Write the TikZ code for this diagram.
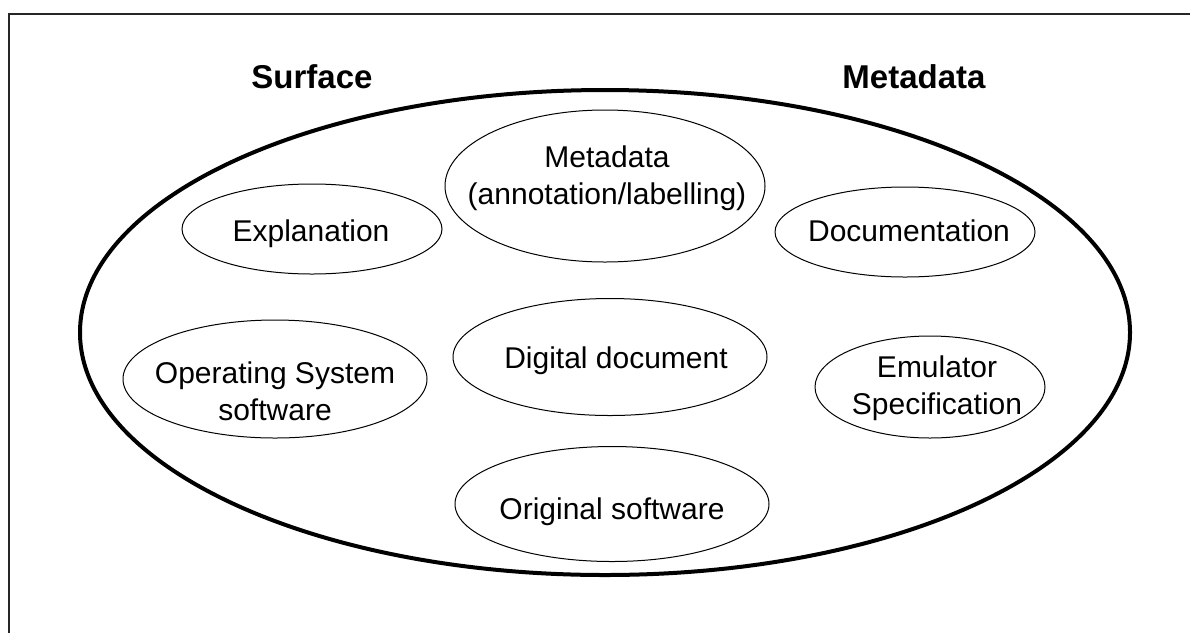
\documentclass[tikz,border=0pt]{standalone}
\usepackage{fontspec}
\setmainfont{Liberation Sans}
\usetikzlibrary{shapes.geometric}
\begin{document}
\begin{tikzpicture}[x=1pt,y=-1pt,
  bubble/.style={draw=black,line width=1pt,ellipse,inner sep=0pt},
  txt/.style={font=\fontsize{30}{37}\selectfont,align=center,inner sep=0pt},
  head/.style={font=\fontsize{33}{38}\selectfont\bfseries,inner sep=0pt,anchor=base}]
\useasboundingbox (0,0) rectangle (1190,633);
% open frame: top and left edges
\draw[line width=1.5pt,black!85] (9,633) -- (9,14) -- (1190,14);
% outer boundary
\node[draw=black,line width=4pt,ellipse,minimum width=1050pt,minimum height=485pt,inner sep=0pt] (outer) at (605,332.5) {};
% headings
\node[head] (surface) at (312,88) {Surface};
\node[head] (metahead) at (914,88) {Metadata};
% inner bubbles
\node[bubble,minimum width=320pt,minimum height=152pt] (meta) at (605,186) {};
\node[bubble,minimum width=260pt,minimum height=90pt] (expl) at (312,229) {};
\node[bubble,minimum width=304pt,minimum height=118pt] (os) at (275,379) {};
\node[bubble,minimum width=260pt,minimum height=90pt] (doc) at (905,232) {};
\node[bubble,minimum width=230pt,minimum height=102pt] (emu) at (930,387) {};
\node[bubble,minimum width=314pt,minimum height=117pt] (dig) at (610,357) {};
\node[bubble,minimum width=314pt,minimum height=115pt] (orig) at (612,504) {};
% bubble texts
\node[txt] (meta-t) at (607,178.5) {Metadata\\(annotation/labelling)};
\node[txt,anchor=base] (expl-t) at (311,241) {Explanation};
\node[txt] (os-t) at (275,391) {Operating System\\software};
\node[txt,anchor=base] (doc-t) at (909,241) {Documentation};
\node[txt] (emu-t) at (937,388) {Emulator\\Specification};
\node[txt,anchor=base] (dig-t) at (616,368) {Digital document};
\node[txt,anchor=base] (orig-t) at (612,519) {Original software};
\end{tikzpicture}
\end{document}
